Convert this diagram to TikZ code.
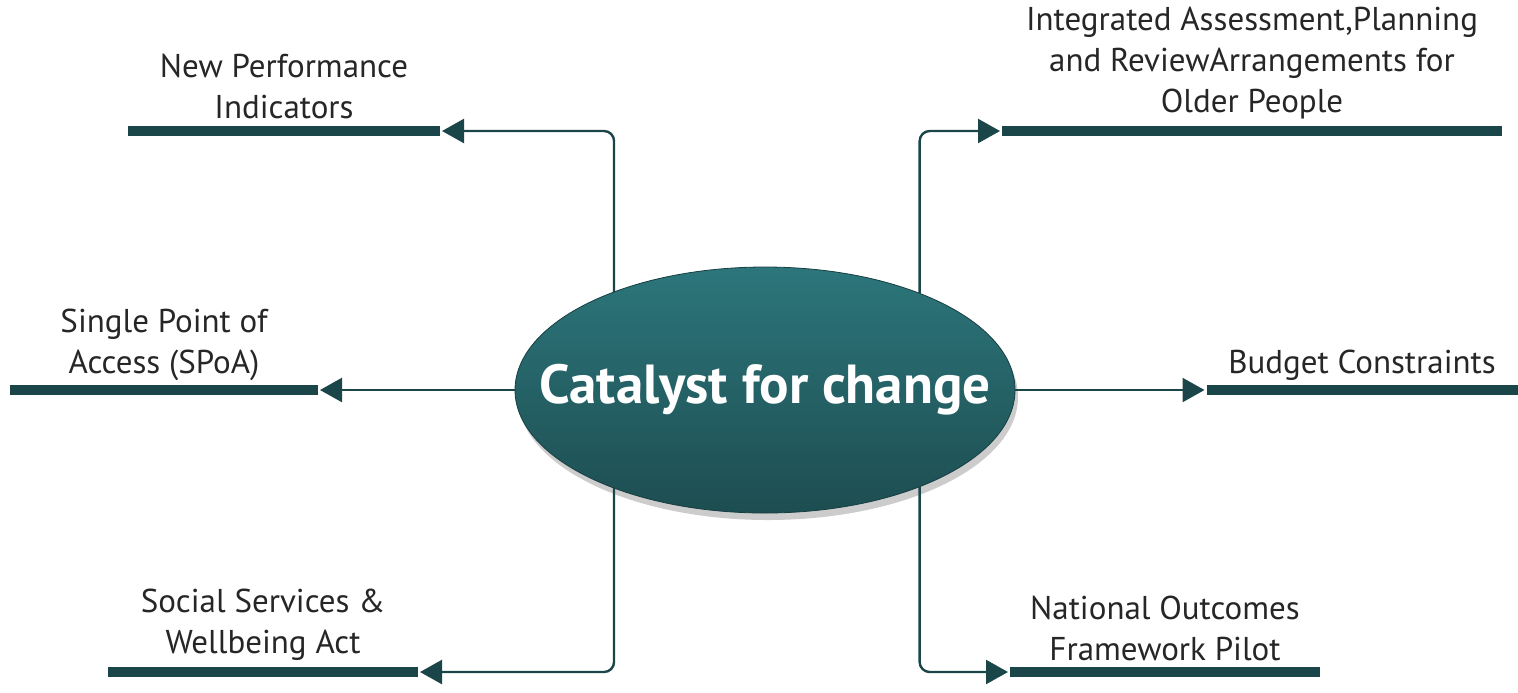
\documentclass[tikz,border=0pt]{standalone}
\usepackage{fontspec}
\setmainfont{PT Sans}
\usetikzlibrary{positioning,arrows.meta,shapes.geometric,shadows}

\definecolor{tealdark}{HTML}{1B4649}
\definecolor{tealtop}{HTML}{2C767B}
\definecolor{tealbot}{HTML}{1D4D51}

\begin{document}
\begin{tikzpicture}[x=0.5pt,y=-0.5pt,node distance=3pt,shorten >=1pt]
    \tikzstyle{hub}=[ellipse,minimum width=250pt,minimum height=123pt,inner sep=0pt,outer sep=0pt,
        top color=tealtop,bottom color=tealbot,draw=tealbot!80!black,line width=0.4pt,
        drop shadow={shadow xshift=1.5pt,shadow yshift=-3.5pt,opacity=0.4}]
    \tikzstyle{hubtext}=[inner sep=0pt,text=white,font=\bfseries\fontsize{27.5}{30}\selectfont]
    \tikzstyle{bar}=[rectangle,fill=tealdark,inner sep=0pt,outer sep=0pt,minimum height=5pt]
    \tikzstyle{annot}=[align=center,inner sep=0pt,text=black!85,font=\fontsize{16.5}{20.5}\selectfont]
    \tikzstyle{edge}=[-{Triangle[length=11pt,width=12pt]},draw=tealdark,line width=1.2pt,rounded corners=5pt]

    \useasboundingbox (0,0) rectangle (1518,692);

    \node[hub] (catalyst) at (765,390) {};
    \node[hubtext] (title) at (catalyst) {Catalyst for change};

    % bars
    \node[bar,minimum width=156pt] (perf) at (284,131) {};
    \node[bar,minimum width=250pt] (assess) at (1252,131) {};
    \node[bar,minimum width=154pt] (spoa) at (164,390) {};
    \node[bar,minimum width=155.5pt] (budget) at (1362,390) {};
    \node[bar,minimum width=155pt] (act) at (263,672) {};
    \node[bar,minimum width=155pt] (outcomes) at (1165,672) {};

    % labels
    \node[annot,above=3.5pt of perf] {New Performance\\Indicators};
    \node[annot,above=3.5pt of assess] {Integrated Assessment,Planning\\and ReviewArrangements for\\Older People};
    \node[annot,above=2pt of spoa] {Single Point of\\Access (SPoA)};
    \node[annot,above=2pt of budget] {Budget Constraints};
    \node[annot,above=3pt of act] {Social Services \&\\Wellbeing Act};
    \node[annot,above=3pt of outcomes] {National Outcomes\\Framework Pilot};

    \draw[edge] (catalyst.147) |- (perf.east);
    \draw[edge] (catalyst.32) |- (assess.west);
    \draw[edge] (catalyst.west) -- (spoa.east);
    \draw[edge] (catalyst.east) -- (budget.west);
    \draw[edge] (catalyst.-147) |- (act.east);
    \draw[edge] (catalyst.-32) |- (outcomes.west);
\end{tikzpicture}
\end{document}
